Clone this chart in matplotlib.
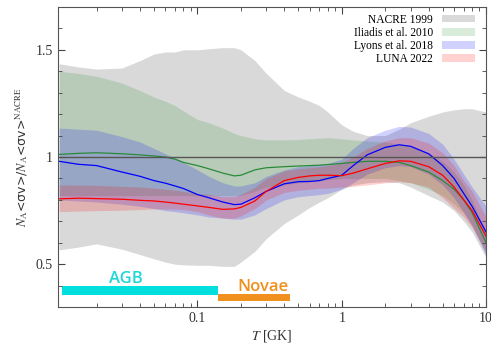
'''
Reaction rate ratios relative to NACRE 1999
'''

import numpy as np
import matplotlib
matplotlib.use('Agg')
import matplotlib.pyplot as plt

plt.rcParams['font.family'] = 'Liberation Serif'
plt.rcParams['mathtext.fontset'] = 'stix'

T = [0.011, 0.015, 0.02, 0.03, 0.04, 0.05, 0.06, 0.07, 0.08, 0.1, 0.12, 0.15,
     0.18, 0.2, 0.25, 0.3, 0.4, 0.5, 0.6, 0.7, 0.8, 1.0, 1.2, 1.5, 2, 2.5, 3,
     4, 5, 6, 7, 8, 10]

nacre_hi = [1.435, 1.42, 1.41, 1.415, 1.45, 1.48, 1.49, 1.49, 1.50, 1.50, 1.505,
            1.51, 1.51, 1.50, 1.45, 1.39, 1.31, 1.28, 1.26, 1.24, 1.21, 1.15,
            1.12, 1.10, 1.10, 1.13, 1.16, 1.19, 1.21, 1.22, 1.225, 1.225, 1.21]
nacre_lo = [0.567, 0.58, 0.595, 0.57, 0.545, 0.525, 0.51, 0.50, 0.497, 0.495,
            0.495, 0.49, 0.49, 0.51, 0.56, 0.62, 0.69, 0.73, 0.765, 0.79, 0.81,
            0.85, 0.87, 0.88, 0.885, 0.88, 0.86, 0.82, 0.79, 0.75, 0.70, 0.65, 0.53]

ili_mid = [1.012, 1.017, 1.02, 1.015, 1.01, 1.005, 1.0, 0.99, 0.975, 0.96, 0.945,
           0.925, 0.912, 0.915, 0.94, 0.95, 0.955, 0.958, 0.96, 0.962, 0.965,
           0.97, 0.975, 0.98, 0.98, 0.975, 0.96, 0.93, 0.89, 0.85, 0.80, 0.74, 0.60]
ili_hi = [1.40, 1.39, 1.377, 1.345, 1.31, 1.28, 1.26, 1.24, 1.215, 1.175, 1.16,
          1.135, 1.11, 1.10, 1.085, 1.08, 1.08, 1.082, 1.085, 1.088, 1.09, 1.085,
          1.08, 1.075, 1.07, 1.06, 1.05, 1.02, 0.98, 0.93, 0.87, 0.80, 0.65]
ili_lo = [0.82, 0.82, 0.82, 0.82, 0.82, 0.82, 0.82, 0.82, 0.82, 0.82, 0.82,
          0.82, 0.82, 0.82, 0.84, 0.86, 0.87, 0.88, 0.885, 0.89, 0.895, 0.90,
          0.90, 0.90, 0.90, 0.89, 0.88, 0.85, 0.82, 0.78, 0.74, 0.68, 0.55]

ly_mid = [0.98, 0.966, 0.96, 0.93, 0.91, 0.89, 0.878, 0.865, 0.853, 0.825, 0.81,
          0.79, 0.778, 0.78, 0.81, 0.84, 0.875, 0.885, 0.886, 0.89, 0.90, 0.915,
          0.96, 1.01, 1.045, 1.057, 1.05, 1.015, 0.96, 0.90, 0.83, 0.77, 0.65]
ly_hi = [1.135, 1.13, 1.125, 1.095, 1.07, 1.04, 1.015, 0.995, 0.975, 0.94, 0.91,
         0.88, 0.865, 0.865, 0.88, 0.91, 0.94, 0.955, 0.96, 0.965, 0.97, 0.99,
         1.04, 1.09, 1.125, 1.143, 1.14, 1.11, 1.06, 0.99, 0.92, 0.86, 0.77]
ly_lo = [0.80, 0.795, 0.79, 0.78, 0.77, 0.76, 0.75, 0.745, 0.74, 0.73, 0.72,
         0.715, 0.71, 0.71, 0.73, 0.76, 0.80, 0.815, 0.82, 0.825, 0.83, 0.85,
         0.88, 0.92, 0.95, 0.96, 0.955, 0.92, 0.87, 0.81, 0.74, 0.68, 0.54]

luna_mid = [0.805, 0.808, 0.806, 0.803, 0.798, 0.795, 0.79, 0.785, 0.78, 0.772,
            0.765, 0.756, 0.758, 0.765, 0.795, 0.84, 0.89, 0.905, 0.912, 0.915,
            0.915, 0.913, 0.925, 0.945, 0.97, 0.982, 0.98, 0.955, 0.915, 0.86,
            0.80, 0.75, 0.63]
luna_hi = [0.87, 0.869, 0.868, 0.863, 0.86, 0.855, 0.85, 0.845, 0.84, 0.83, 0.825,
           0.815, 0.815, 0.825, 0.86, 0.90, 0.935, 0.945, 0.95, 0.955, 0.96, 0.975,
           1.00, 1.04, 1.075, 1.09, 1.09, 1.065, 1.02, 0.96, 0.89, 0.84, 0.72]
luna_lo = [0.745, 0.748, 0.75, 0.752, 0.755, 0.758, 0.758, 0.757, 0.755, 0.745,
           0.73, 0.715, 0.715, 0.725, 0.76, 0.80, 0.835, 0.845, 0.85, 0.855, 0.855,
           0.86, 0.863, 0.87, 0.88, 0.885, 0.88, 0.86, 0.81, 0.76, 0.72, 0.67, 0.56]

# Gamow windows
agb_T = [0.0115, 0.138]
novae_T = [0.138, 0.435]
agb_y = 0.378
novae_y = 0.345

fig = plt.figure(figsize=(4.91, 3.47), dpi=100)
ax = fig.add_axes([0.118, 0.115, 0.872, 0.865])

ax.fill_between(T, nacre_lo, nacre_hi, color='#d9d9d9', lw=0, label='NACRE 1999')
ax.fill_between(T, ili_lo, ili_hi, color='green', alpha=0.15, lw=0,
                label='Iliadis et al. 2010')
ax.plot(T, ili_mid, color='#2a8a3a', lw=0.9)
ax.fill_between(T, ly_lo, ly_hi, color='blue', alpha=0.18, lw=0,
                label='Lyons et al. 2018')
ax.plot(T, ly_mid, color='blue', lw=0.9)
ax.fill_between(T, luna_lo, luna_hi, color='red', alpha=0.18, lw=0,
                label='LUNA 2022')
ax.plot(T, luna_mid, color='red', lw=0.9)
ax.axhline(1, color='#555555', lw=1)

ax.barh(agb_y, agb_T[1] - agb_T[0], left=agb_T[0], height=0.042,
        color='#00dede', lw=0)
ax.barh(novae_y, novae_T[1] - novae_T[0], left=novae_T[0], height=0.032,
        color='#f0901e', lw=0)
ax.text(0.032, 0.43, 'AGB', color='#1ed6d6', fontsize=12, weight='semibold',
        family='Open Sans', ha='center', va='center')
ax.text(0.283, 0.393, 'Novae', color='#f0901e', fontsize=12, weight='semibold',
        family='Open Sans', ha='center', va='center')

ax.set_xscale('log')
ax.set_xlim(0.0108, 10)
ax.set_ylim(0.3, 1.7)
ax.set_yticks([0.5, 1, 1.5])
ax.set_yticklabels(['0.5', '1', '1.5'])
ax.set_yticks(np.arange(0.3, 1.71, 0.1), minor=True)
ax.set_xticks([0.1, 1, 10])
ax.set_xticklabels(['0.1', '1', '10'])
ax.tick_params(which='both', direction='in', top=True, right=True,
               labelsize=10, colors='#444444', labelcolor='#333333')
ax.tick_params(which='major', length=5)
ax.tick_params(which='minor', length=3)
for s in ax.spines.values():
    s.set_color('#555555')

ax.set_xlabel(r'$T$ [GK]', fontsize=10, color='#333333', labelpad=2)
ax.set_ylabel(r'$N_{\rm A}$<σv>/$N_{\rm A}$<σv>$^{\rm NACRE}$', fontsize=9,
              family='DejaVu Sans', color='#333333', labelpad=4)

ax.legend(loc='upper right', bbox_to_anchor=(0.995, 1.008), frameon=False,
          markerfirst=False, fontsize=8.3, handlelength=2.8, handleheight=0.6,
          labelspacing=0.1, handletextpad=0.8, borderpad=0.3)

plt.savefig('out.png', dpi=100)
